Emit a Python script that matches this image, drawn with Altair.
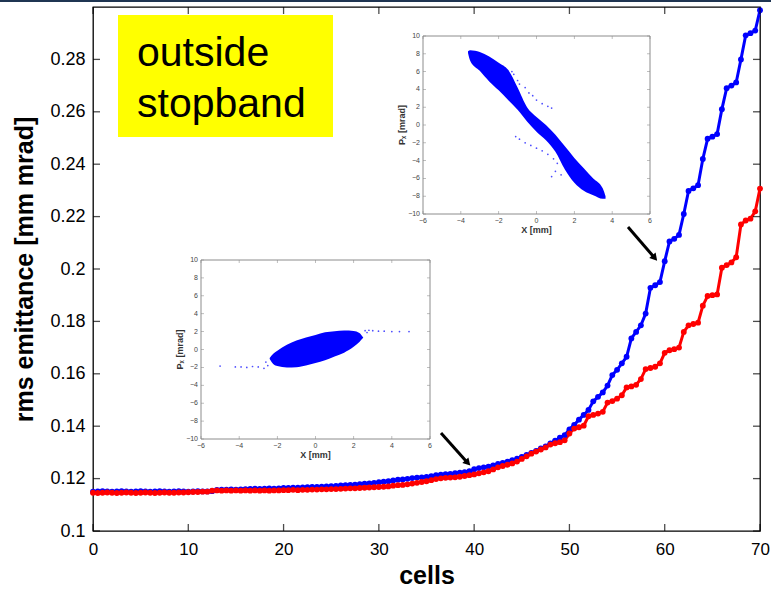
import altair as alt
import pandas as pd

FONT = "Liberation Sans"

# ---------------- main data: rms emittance along the cells ----------------
cells = [i / 2 for i in range(141)]  # 0, 0.5, ..., 70

blue_emit = [
    0.1150, 0.1151, 0.1152, 0.1151, 0.1150, 0.1151, 0.1152, 0.1151, 0.1150, 0.1151,
    0.1152, 0.1151, 0.1150, 0.1151, 0.1152, 0.1151, 0.1150, 0.1151, 0.1152, 0.1151,
    0.1150, 0.1151, 0.1152, 0.1151, 0.1151, 0.1152, 0.1157, 0.1158, 0.1158, 0.1159,
    0.1158, 0.1159, 0.1160, 0.1161, 0.1162, 0.1161, 0.1162, 0.1163, 0.1162, 0.1163,
    0.1164, 0.1164, 0.1165, 0.1165, 0.1166, 0.1167, 0.1168, 0.1168, 0.1169, 0.1170,
    0.1171, 0.1172, 0.1174, 0.1175, 0.1176, 0.1177, 0.1179, 0.1181, 0.1182, 0.1184,
    0.1186, 0.1188, 0.1190, 0.1193, 0.1196, 0.1197, 0.1199, 0.1202, 0.1204, 0.1205,
    0.1206, 0.1209, 0.1213, 0.1215, 0.1217, 0.1218, 0.1221, 0.1223, 0.1225, 0.1228,
    0.1236, 0.1240, 0.1243, 0.1246, 0.1250, 0.1256, 0.1260, 0.1265, 0.1270, 0.1276,
    0.1283, 0.1290, 0.1298, 0.1306, 0.1315, 0.1323, 0.1334, 0.1345, 0.1356, 0.1366,
    0.1388, 0.1405, 0.1425, 0.1443, 0.1462, 0.1495, 0.1512, 0.1529, 0.1555, 0.1595,
    0.1615, 0.1640, 0.1665, 0.1735, 0.1760, 0.1785, 0.1830, 0.1928, 0.1938, 0.1950,
    0.2030, 0.2105, 0.2115, 0.2130, 0.2210, 0.2298, 0.2308, 0.2320, 0.2420, 0.2497,
    0.2505, 0.2515, 0.2610, 0.2690, 0.2700, 0.2712, 0.2800, 0.2892, 0.2900, 0.2910,
    0.2988,
]

red_emit = [
    0.1146, 0.1145, 0.1146, 0.1147, 0.1146, 0.1145, 0.1146, 0.1147, 0.1146, 0.1145,
    0.1146, 0.1147, 0.1146, 0.1145, 0.1146, 0.1147, 0.1146, 0.1146, 0.1147, 0.1147,
    0.1148, 0.1149, 0.1149, 0.1150, 0.1150, 0.1154, 0.1155, 0.1154, 0.1155, 0.1154,
    0.1155, 0.1154, 0.1155, 0.1154, 0.1155, 0.1154, 0.1155, 0.1154, 0.1155, 0.1155,
    0.1156, 0.1156, 0.1157, 0.1156, 0.1157, 0.1157, 0.1158, 0.1158, 0.1159, 0.1159,
    0.1160, 0.1160, 0.1161, 0.1162, 0.1163, 0.1163, 0.1164, 0.1165, 0.1166, 0.1167,
    0.1168, 0.1169, 0.1170, 0.1173, 0.1175, 0.1176, 0.1178, 0.1181, 0.1184, 0.1187,
    0.1190, 0.1194, 0.1198, 0.1201, 0.1203, 0.1204, 0.1205, 0.1207, 0.1210, 0.1213,
    0.1216, 0.1220, 0.1224, 0.1228, 0.1235, 0.1243, 0.1248, 0.1253, 0.1258, 0.1265,
    0.1275, 0.1285, 0.1295, 0.1303, 0.1311, 0.1319, 0.1330, 0.1335, 0.1339, 0.1346,
    0.1372, 0.1391, 0.1396, 0.1402, 0.1438, 0.1443, 0.1448, 0.1455, 0.1490, 0.1496,
    0.1505, 0.1518, 0.1548, 0.1552, 0.1558, 0.1580, 0.1618, 0.1622, 0.1627, 0.1640,
    0.1680, 0.1690, 0.1694, 0.1700, 0.1760, 0.1785, 0.1790, 0.1795, 0.1860, 0.1897,
    0.1900, 0.1903, 0.2005, 0.2015, 0.2025, 0.2045, 0.2170, 0.2185, 0.2192, 0.2220,
    0.2307,
]

x_ticks = [0, 10, 20, 30, 40, 50, 60, 70]
y_ticks = [0.1, 0.12, 0.14, 0.16, 0.18, 0.2, 0.22, 0.24, 0.26, 0.28]

# ---------------- inset phase-space plots ----------------
inset_x_ticks = [-6, -4, -2, 0, 2, 4, 6]
inset_y_ticks = [-10, -8, -6, -4, -2, 0, 2, 4, 6, 8, 10]

# upper-right inset: tilted S-shaped band (outline of the particle cloud)
in1_x = [-3.62, -3.5, -3.0, -2.5, -2.0, -1.5, -1.0, -0.5, 0.0, 0.5, 1.0, 1.5, 2.0, 2.5, 3.0, 3.5, 3.65]
in1_upper = [8.3, 8.4, 8.2, 7.7, 7.0, 6.2, 4.2, 2.0, 0.9, 0.0, -1.1, -2.4, -3.7, -4.85, -6.0, -7.1, -8.0]
in1_lower = [8.1, 7.2, 6.1, 4.9, 3.9, 2.8, 1.7, 0.4, -0.75, -1.7, -3.0, -5.0, -6.5, -7.4, -7.9, -8.3, -8.3]
in1_halo_x = [-1.5, -1.3, -1.2, -1.0, -0.9, -0.6, -0.4, -0.2, 0.0, 0.3, 0.6, 0.8,
              -1.1, -0.9, -0.6, -0.3, 0.0, 0.3, 0.6, 0.9, 1.1, 0.8, 1.0, 1.3]
in1_halo_y = [5.9, 6.0, 5.7, 5.0, 4.6, 4.2, 3.6, 3.3, 2.8, 2.4, 2.1, 1.9,
              -1.3, -1.6, -2.0, -2.3, -2.6, -2.9, -3.3, -3.8, -4.3, -5.8, -5.2, -5.6]

# lower-left inset: tilted ellipse with thin tails
in2_x = [-2.4, -2.2, -2.0, -1.5, -1.0, -0.5, 0.0, 0.5, 1.0, 1.5, 2.0, 2.3, 2.5]
in2_upper = [-0.95, -0.45, -0.15, 0.52, 1.0, 1.35, 1.62, 1.92, 2.05, 2.12, 2.08, 1.85, 1.35]
in2_lower = [-1.05, -1.65, -1.85, -2.0, -1.97, -1.78, -1.5, -1.2, -0.78, -0.35, 0.3, 0.85, 1.3]
in2_halo_x = [-5.0, -4.2, -3.9, -3.6, -3.3, -3.0, -2.7, -2.6, -2.5,
              2.6, 2.7, 2.8, 3.0, 3.3, 3.6, 4.0, 4.4, 4.9]
in2_halo_y = [-1.85, -1.95, -1.95, -2.0, -1.9, -1.95, -2.1, -1.4, -1.8,
              2.1, 1.9, 2.15, 2.1, 2.05, 2.05, 2.0, 2.0, 2.0]

# ---------------- layout ----------------
W, H = 667, 524
PAD = {"left": 93, "top": 7, "right": 771 - 93 - W, "bottom": 594 - 7 - H}

n = len(cells)
df = pd.DataFrame({
    "cell": cells + cells,
    "emit": blue_emit + red_emit,
    "series": ["blue"] * n + ["red"] * n,
})

xs = alt.Scale(domain=[0, 70], nice=False, zero=False)
ys = alt.Scale(domain=[0.1, 0.3], nice=False, zero=False)
xaxis = alt.Axis(values=x_ticks, ticks=False, domain=False, grid=False,
                 labelFontSize=17, labelFont=FONT, labelColor="black",
                 labelPadding=10, labelFlush=False,
                 title="cells", titleFont=FONT, titleFontSize=25,
                 titleFontWeight="bold", titleColor="black", titlePadding=6)
yaxis = alt.Axis(values=y_ticks, format="~g", ticks=False, domain=False, grid=False,
                 labelFontSize=18, labelFont=FONT, labelColor="black",
                 labelPadding=8, labelFlush=False,
                 title="rms emittance [mm mrad]", titleFont=FONT, titleFontSize=25,
                 titleFontWeight="bold", titleColor="black", titlePadding=12)
color = alt.Color("series:N", scale=alt.Scale(domain=["blue", "red"], range=["#0000ff", "#ff0000"]),
                  legend=None)

X = lambda: alt.X("cell:Q", scale=xs, axis=xaxis)
Y = lambda: alt.Y("emit:Q", scale=ys, axis=yaxis)

lines = alt.Chart(df).mark_line(strokeWidth=3).encode(x=X(), y=Y(), color=color)
dots = alt.Chart(df).mark_circle(size=34, opacity=1).encode(x=X(), y=Y(), color=color)

xt = pd.DataFrame({"cell": x_ticks})
yt = pd.DataFrame({"emit": y_ticks})
tick_b = alt.Chart(xt).mark_tick(orient="vertical", size=7, thickness=1.3, color="black", yOffset=-3.5).encode(
    x=X(), y=alt.Y(datum=0.1, scale=ys, axis=yaxis))
tick_t = alt.Chart(xt).mark_tick(orient="vertical", size=7, thickness=1.3, color="black", yOffset=3.5).encode(
    x=X(), y=alt.Y(datum=0.3, scale=ys, axis=yaxis))
tick_l = alt.Chart(yt).mark_tick(orient="horizontal", size=7, thickness=1.3, color="black", xOffset=3.5).encode(
    y=Y(), x=alt.X(datum=0, scale=xs, axis=xaxis))
tick_r = alt.Chart(yt).mark_tick(orient="horizontal", size=7, thickness=1.3, color="black", xOffset=-3.5).encode(
    y=Y(), x=alt.X(datum=70, scale=xs, axis=xaxis))

main = alt.layer(lines, dots, tick_b, tick_t, tick_l, tick_r)


def inset(bx, ux, lx, hx, hy, xrange, yrange):
    sx = alt.Scale(domain=[-6, 6], range=xrange, nice=False, zero=False)
    sy = alt.Scale(domain=[-10, 10], range=yrange, nice=False, zero=False)
    fx = lambda f: alt.X(f, scale=sx, axis=None)
    fy = lambda f: alt.Y(f, scale=sy, axis=None)
    dx = lambda v: alt.X(datum=v, scale=sx, axis=None)
    dy = lambda v: alt.Y(datum=v, scale=sy, axis=None)
    frame = alt.Chart(pd.DataFrame({"a": [0]})).mark_rect(fill="white", stroke="#8c8c8c", strokeWidth=1).encode(
        x=dx(-6), x2=alt.X2(datum=6), y=dy(-10), y2=alt.Y2(datum=10))
    band = alt.Chart(pd.DataFrame({"px": bx, "up": ux, "lo": lx})).mark_area(
        color="#0000ff", opacity=1, interpolate="monotone").encode(
        x=fx("px:Q"), y=fy("up:Q"), y2="lo:Q")
    halo = alt.Chart(pd.DataFrame({"px": hx, "py": hy})).mark_circle(size=3, color="#0000ff", opacity=0.7).encode(
        x=fx("px:Q"), y=fy("py:Q"))
    txd = pd.DataFrame({"v": inset_x_ticks})
    tyd = pd.DataFrame({"v": inset_y_ticks})
    tk = dict(size=3, thickness=0.8, color="#8c8c8c")
    t1 = alt.Chart(txd).mark_tick(orient="vertical", yOffset=-1.5, **tk).encode(x=fx("v:Q"), y=dy(-10))
    t2 = alt.Chart(txd).mark_tick(orient="vertical", yOffset=1.5, **tk).encode(x=fx("v:Q"), y=dy(10))
    t3 = alt.Chart(tyd).mark_tick(orient="horizontal", xOffset=1.5, **tk).encode(y=fy("v:Q"), x=dx(-6))
    t4 = alt.Chart(tyd).mark_tick(orient="horizontal", xOffset=-1.5, **tk).encode(y=fy("v:Q"), x=dx(6))
    lx_ = alt.Chart(txd).mark_text(fontSize=7, font=FONT, color="#444", baseline="top", dy=3).encode(
        x=fx("v:Q"), y=dy(-10), text=alt.Text("v:Q", format="d"))
    ly_ = alt.Chart(tyd).mark_text(fontSize=7, font=FONT, color="#444", align="right", dx=-3).encode(
        y=fy("v:Q"), x=dx(-6), text=alt.Text("v:Q", format="d"))
    xt_ = alt.Chart(pd.DataFrame({"a": [0]})).mark_text(
        fontSize=9, font=FONT, fontWeight="bold", color="#333", baseline="top", yOffset=12).encode(
        x=dx(0), y=dy(-10), text=alt.value("X [mm]"))
    yt_ = alt.Chart(pd.DataFrame({"a": [0]})).mark_text(
        fontSize=9, font=FONT, fontWeight="bold", color="#333", angle=270, xOffset=-21).encode(
        x=dx(-6), y=dy(0), text=alt.value("Pₓ [mrad]"))
    return alt.layer(frame, band, halo, t1, t2, t3, t4, lx_, ly_, xt_, yt_)


inset1 = inset(in1_x, in1_upper, in1_lower, in1_halo_x, in1_halo_y, [330, 557], [207, 29])
inset2 = inset(in2_x, in2_upper, in2_lower, in2_halo_x, in2_halo_y, [108, 337], [432, 253])

one = pd.DataFrame({"a": [0]})
ybox = alt.Chart(one).mark_rect(color="#ffff00").encode(
    x=alt.value(25), x2=alt.value(240), y=alt.value(8), y2=alt.value(130))
txt1 = alt.Chart(one).mark_text(fontSize=41, font=FONT, color="black", align="left", baseline="alphabetic").encode(
    x=alt.value(44), y=alt.value(59), text=alt.value("outside"))
txt2 = alt.Chart(one).mark_text(fontSize=41, font=FONT, color="black", align="left", baseline="alphabetic").encode(
    x=alt.value(44), y=alt.value(110), text=alt.value("stopband"))

shaft1 = alt.Chart(one).mark_rule(strokeWidth=3, color="black").encode(
    x=alt.value(535), y=alt.value(220), x2=alt.value(560), y2=alt.value(249))
head1 = alt.Chart(one).mark_point(shape="triangle", filled=True, size=70, angle=139, color="black", opacity=1).encode(
    x=alt.value(561), y=alt.value(250))
shaft2 = alt.Chart(one).mark_rule(strokeWidth=3, color="black").encode(
    x=alt.value(348), y=alt.value(426), x2=alt.value(373), y2=alt.value(454))
head2 = alt.Chart(one).mark_point(shape="triangle", filled=True, size=70, angle=137, color="black", opacity=1).encode(
    x=alt.value(374), y=alt.value(455))

topbar = alt.Chart(one).mark_rect(color="#1f3552").encode(
    x=alt.value(-93), x2=alt.value(678), y=alt.value(-7), y2=alt.value(-5))

chart = alt.layer(
    main, inset1, inset2, ybox, txt1, txt2, shaft1, head1, shaft2, head2, topbar
).resolve_scale(x="independent", y="independent").properties(
    width=W, height=H, autosize=alt.AutoSizeParams(type="none"), padding=PAD, background="white"
).configure_view(stroke="black", strokeWidth=1.3)

chart.save("out.html", embed_options={"renderer": "svg", "actions": False})
